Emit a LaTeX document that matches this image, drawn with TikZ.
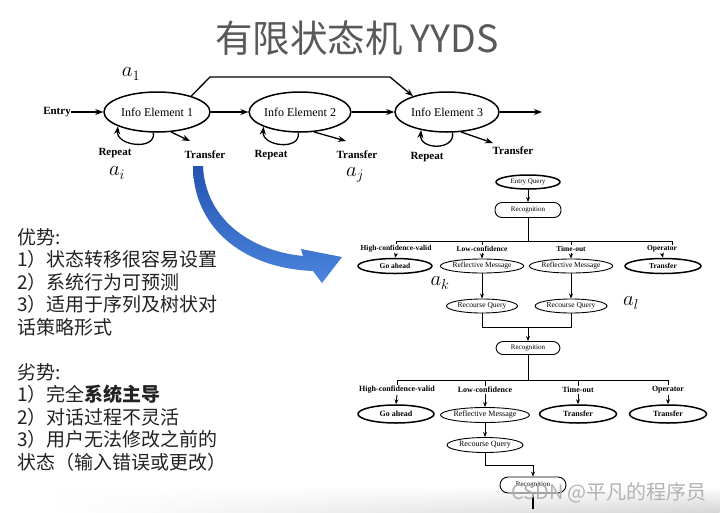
\documentclass[tikz,border=0pt]{standalone}
\usepackage{fontspec}
\setmainfont{Liberation Serif}
\newfontfamily\cjk{Noto Sans CJK SC}
\usetikzlibrary{shapes.geometric,arrows.meta,fadings}
\definecolor{titlegray}{HTML}{595959}
\definecolor{txt}{HTML}{222222}
\definecolor{bluedark}{HTML}{2354B0}
\definecolor{bluelight}{HTML}{4B84DE}
\tikzfading[name=fadeleft, left color=transparent!100, right color=transparent!0]
\tikzset{
  fsm/.style={ellipse, draw, line width=1.5pt, inner sep=0pt, font=\fontsize{12}{12}\selectfont},
  fsmlab/.style={font=\bfseries\fontsize{11}{11}\selectfont, inner sep=0pt},
  mathlab/.style={font=\fontsize{22}{22}\selectfont, inner sep=0pt},
  arr/.style={line width=1.3pt, -{Stealth[length=8pt,width=6pt]}},
  fcthick/.style={ellipse, draw, line width=1.5pt, inner sep=0pt, font=\bfseries\fontsize{7.5}{7.5}\selectfont},
  fcthin/.style={ellipse, draw, line width=0.9pt, inner sep=0pt, font=\fontsize{7.5}{7.5}\selectfont},
  pill/.style={rectangle, rounded corners=7pt, draw, line width=0.9pt, inner sep=0pt, font=\fontsize{7}{7}\selectfont},
  fcl/.style={font=\bfseries\fontsize{7.5}{7.5}\selectfont, inner sep=1pt},
  farr/.style={line width=0.9pt, -{Stealth[length=5pt,width=4pt]}},
  fline/.style={line width=0.9pt},
  cjkline/.style={font=\cjk\fontsize{19}{19}\selectfont, text=txt, anchor=west, inner sep=0pt},
}
\begin{document}
\begin{tikzpicture}[x=1pt,y=-1pt]
\useasboundingbox (0,0) rectangle (720,512);
\fill[white] (0,0) rectangle (720,512);
% bottom band
\shade[top color=white, bottom color=black!16, path fading=fadeleft] (60,486) rectangle (720,512);

% title
\node[font=\cjk\fontsize{37.5}{37.5}\selectfont, text=titlegray, inner sep=0pt] (title) at (357,38) {有限状态机 YYDS};

% ---------- top FSM ----------
\node[fsmlab] (entry) at (57,112) {Entry};
\node[fsm, minimum width=106pt, minimum height=40pt] (e1) at (157,112) {Info Element 1};
\node[fsm, minimum width=96pt, minimum height=40pt] (e2) at (300,112) {Info Element 2};
\node[fsm, minimum width=104pt, minimum height=40pt] (e3) at (447,112) {Info Element 3};
\coordinate (out3) at (542,112);
\coordinate (topL) at (210,77);
\coordinate (topR) at (390,77);
\draw[arr] (entry.east) -- (e1.west);
\draw[arr] (e1) -- (e2);
\draw[arr] (e2) -- (e3);
\draw[arr] (e3.east) -- (out3);
\draw[arr, line join=miter] (e1.25) -- (topL) -- (topR) -- (e3.155);

% repeat loops
\draw[arr] (e1.-100) .. controls +(3,18) and +(-2,20) .. (e1.-160);
\draw[arr] (e2.-95) .. controls +(3,18) and +(-2,20) .. (e2.-158);
\draw[arr] (e3.-75) .. controls +(3,18) and +(-2,20) .. (e3.-145);
% transfer arrows
\coordinate (t1) at (190,141);
\coordinate (t2) at (346,141);
\coordinate (t3) at (493,143);
\draw[arr] (e1.-55) -- (t1);
\draw[arr] (e2.-55) -- (t2);
\draw[arr] (e3.-55) -- (t3);
\node[fsmlab] (rp1) at (115,153) {Repeat};
\node[fsmlab] (tf1) at (205,155) {Transfer};
\node[fsmlab] (rp2) at (271,155) {Repeat};
\node[fsmlab] (tf2) at (357,155) {Transfer};
\node[fsmlab] (rp3) at (427,157) {Repeat};
\node[fsmlab] (tf3) at (513,151) {Transfer};

\node[mathlab] (a1) at (131,74) {$a_1$};
\node[mathlab] (ai) at (117,173) {$a_i$};
\node[mathlab] (aj) at (355,175) {$a_j$};
\node[mathlab] (ak) at (440,283) {$a_k$};
\node[mathlab] (al) at (631,303) {$a_l$};

% ---------- blue arrow ----------
\shade[top color=bluedark, bottom color=bluelight]
  (193,166) .. controls (193,225) and (240,268) .. (313,271)
  -- (322,283) -- (342,257) -- (301,249) -- (303,256)
  .. controls (245,250) and (205,215) .. (203,166) -- cycle;

% ---------- left text ----------
\node[cjkline] (p0) at (17,237) {优势:};
\node[cjkline] (p1) at (17,259.5) {1）状态转移很容易设置};
\node[cjkline] (p2) at (17,282) {2）系统行为可预测};
\node[cjkline] (p3) at (17,304.5) {3）适用于序列及树状对};
\node[cjkline] (p4) at (17,327) {话策略形式};
\node[cjkline] (n0) at (17,372) {劣势:};
\node[cjkline] (n1) at (17,394.5) {1）完全\textbf{系统主导}};
\node[cjkline] (n2) at (17,417) {2）对话过程不灵活};
\node[cjkline] (n3) at (17,439.5) {3）用户无法修改之前的};
\node[cjkline] (n4) at (17,462) {状态（输入错误或更改）};

% ---------- flowchart ----------
\node[fcthick, minimum width=64pt, minimum height=14pt, font=\fontsize{7}{7}\selectfont] (eq) at (528,182) {Entry Query};
\node[pill, minimum width=66pt, minimum height=15pt] (rec1) at (528,210) {Recognition};
\draw[farr] (eq) -- (rec1);
\coordinate (b1) at (396,241);
\coordinate (b4) at (672,241);
\coordinate (bm) at (528,241);
\draw[fline] (rec1.south) -- (bm);
\draw[fline] (b1) -- (b4);
\node[fcl] (l1) at (396,249) {High-confidence-valid};
\node[fcl] (l2) at (482,249) {Low-confidence};
\node[fcl] (l3) at (571,249) {Time-out};
\node[fcl] (l4) at (662,249) {Operator};
\draw[fline] (b1) -- (l1.north);
\draw[fline] (l2.north |- b1) -- (l2.north);
\draw[fline] (l3.north |- b1) -- (l3.north);
\draw[fline] (b4) -- (b4 |- l4.north);
\node[fcthick, minimum width=74pt, minimum height=15pt] (ga1) at (395,266) {Go ahead};
\node[fcthin, minimum width=71pt, minimum height=14pt] (rm1) at (482,266) {Reflective Message};
\node[fcthin, minimum width=72pt, minimum height=14pt] (rm2) at (571,266) {Reflective Message};
\node[fcthick, minimum width=76pt, minimum height=15pt] (tr1) at (663,266) {Transfer};
\draw[farr] (l1.south) -- (ga1.north);
\draw[farr] (l2.south) -- (rm1.north);
\draw[farr] (l3.south) -- (rm2.north);
\draw[farr] (l4.south) -- (tr1.north);
\node[fcthin, minimum width=71pt, minimum height=14pt] (rq1) at (482,306) {Recourse Query};
\node[fcthin, minimum width=72pt, minimum height=14pt] (rq2) at (571,306) {Recourse Query};
\draw[farr] (rm1) -- (rq1);
\draw[farr] (rm2) -- (rq2);
\coordinate (m1) at (528,327);
\node[pill, minimum width=64pt, minimum height=13pt] (rec2) at (528,348) {Recognition};
\draw[fline] (rq1.south) -- (rq1.south |- m1) -- (rq2.south |- m1) -- (rq2.south);
\draw[farr] (m1) -- (rec2.north);

\coordinate (c1) at (397,380);
\coordinate (c4) at (668,380);
\coordinate (cm) at (528,380);
\draw[fline] (rec2.south) -- (cm);
\draw[fline] (c1) -- (c4);
\node[fcl, font=\bfseries\fontsize{8}{8}\selectfont] (k1) at (397,390) {High-confidence-valid};
\node[fcl, font=\bfseries\fontsize{8}{8}\selectfont] (k2) at (485,390) {Low-confidence};
\node[fcl, font=\bfseries\fontsize{8}{8}\selectfont] (k3) at (578,390) {Time-out};
\node[fcl, font=\bfseries\fontsize{8}{8}\selectfont] (k4) at (668,390) {Operator};
\draw[fline] (c1) -- (k1.north);
\draw[fline] (k2.north |- c1) -- (k2.north);
\draw[fline] (k3.north |- c1) -- (k3.north);
\draw[fline] (c4) -- (k4.north);
\node[fcthick, minimum width=76pt, minimum height=18pt, font=\bfseries\fontsize{8}{8}\selectfont] (ga2) at (396,414) {Go ahead};
\node[fcthin, minimum width=77pt, minimum height=15pt, font=\fontsize{8}{8}\selectfont] (rm3) at (485,415) {Reflective Message};
\node[fcthick, minimum width=77pt, minimum height=18pt, font=\bfseries\fontsize{8}{8}\selectfont] (tr2) at (578,414) {Transfer};
\node[fcthick, minimum width=77pt, minimum height=18pt, font=\bfseries\fontsize{8}{8}\selectfont] (tr3) at (668,414) {Transfer};
\draw[farr] (k1.south) -- (ga2.north);
\draw[farr] (k2.south) -- (rm3.north);
\draw[farr] (k3.south) -- (tr2.north);
\draw[farr] (k4.south) -- (tr3.north);
\node[fcthin, minimum width=76pt, minimum height=15pt, font=\fontsize{8}{8}\selectfont] (rq3) at (485,445) {Recourse Query};
\draw[farr] (rm3) -- (rq3);
\coordinate (m2) at (533,465);
\node[pill, minimum width=66pt, minimum height=16pt, rounded corners=8pt] (rec3) at (533,485) {Recognition};
\draw[fline] (rq3.south) -- (rq3.south |- m2) -- (m2);
\draw[farr] (m2) -- (rec3.north);
\coordinate (tail) at (533,509);
\draw[line width=1.6pt] (rec3.south) -- (tail);

% watermark
\node[font=\cjk\fontsize{20}{20}\selectfont, text=gray!60, inner sep=0pt] (wm) at (609,493) {CSDN @平凡的程序员};
\end{tikzpicture}
\end{document}
